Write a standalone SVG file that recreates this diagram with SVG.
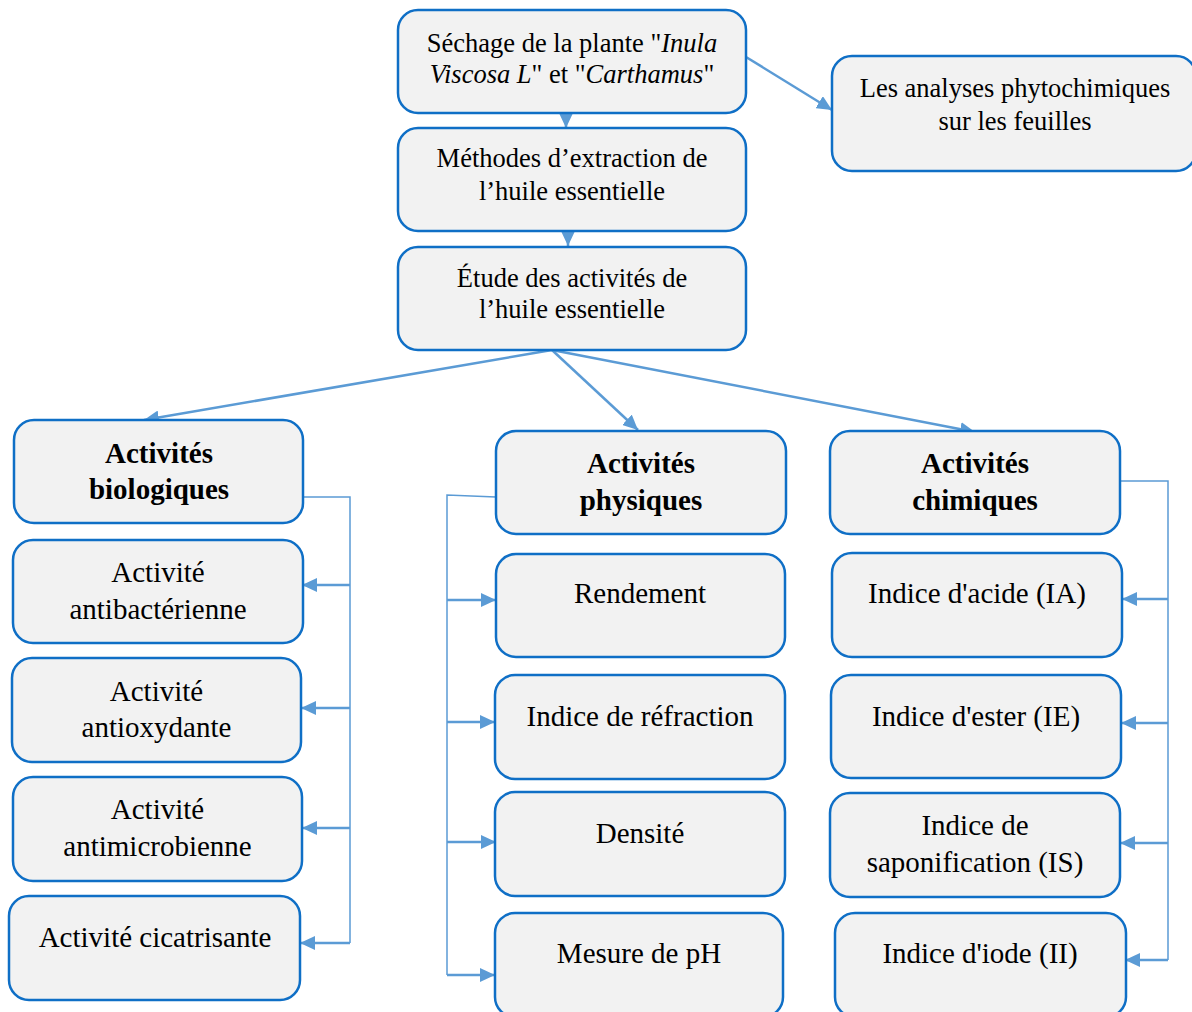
<svg xmlns="http://www.w3.org/2000/svg" width="1192" height="1012" viewBox="0 0 1192 1012">
<defs>
<marker id="ah" markerUnits="userSpaceOnUse" markerWidth="16" markerHeight="14" viewBox="0 0 16 14" refX="15" refY="7" orient="auto">
<path d="M0,0 L15,7 L0,14 z" fill="#5b9bd5"/>
</marker>
</defs>
<style>
.box{fill:#f2f2f2;stroke:#0f6fc6;stroke-width:2.5}
.t{font-family:"Liberation Serif","Times New Roman",serif;fill:#000;text-anchor:middle}
.s{font-size:26.5px}
.m{font-size:29px}
.b{font-size:29px;font-weight:bold}
.c{fill:none;stroke:#5b9bd5;stroke-width:2.5}
.a{fill:none;stroke:#5b9bd5;stroke-width:2.5;marker-end:url(#ah)}
.br{fill:none;stroke:#5b9bd5;stroke-width:1.5}
</style>
<rect width="1192" height="1012" fill="#fff"/>
<g id="connectors">
<line class="a" x1="566" y1="113" x2="566" y2="128"/>
<line class="a" x1="568" y1="231" x2="568" y2="246"/>
<line class="a" x1="746" y1="57" x2="832" y2="110"/>
<line class="a" x1="552" y1="350" x2="144" y2="420"/>
<line class="a" x1="552" y1="350" x2="638" y2="430"/>
<line class="a" x1="552" y1="350" x2="975" y2="432"/>
<polyline class="br" points="303,497 350,497 350,943"/>
<line class="a" x1="350" y1="585" x2="302" y2="585"/>
<line class="a" x1="350" y1="708" x2="301" y2="708"/>
<line class="a" x1="350" y1="828" x2="302" y2="828"/>
<line class="a" x1="350" y1="943" x2="300" y2="943"/>
<polyline class="br" points="496,497 447,495 447,975"/>
<line class="a" x1="447" y1="600" x2="496" y2="600"/>
<line class="a" x1="447" y1="722" x2="495" y2="722"/>
<line class="a" x1="447" y1="842" x2="496" y2="842"/>
<line class="a" x1="447" y1="975" x2="495" y2="975"/>
<polyline class="br" points="1120,481 1168,481 1168,960"/>
<line class="a" x1="1168" y1="599" x2="1122" y2="599"/>
<line class="a" x1="1168" y1="723" x2="1121" y2="723"/>
<line class="a" x1="1168" y1="843" x2="1120" y2="843"/>
<line class="a" x1="1168" y1="960" x2="1125" y2="960"/>
</g>
<g id="sechage">
<rect class="box" x="398" y="10" width="348" height="103" rx="20"/>
<text class="t s" x="572" y="52">Séchage de la plante "<tspan font-style="italic">Inula</tspan></text>
<text class="t s" x="572" y="83"><tspan font-style="italic">Viscosa L</tspan>" et "<tspan font-style="italic">Carthamus</tspan>"</text>
</g>
<g id="analyses">
<rect class="box" x="832" y="56" width="364" height="115" rx="20"/>
<text class="t s" x="1015" y="97">Les analyses phytochimiques</text>
<text class="t s" x="1015" y="130">sur les feuilles</text>
</g>
<g id="extraction">
<rect class="box" x="398" y="128" width="348" height="103" rx="20"/>
<text class="t s" x="572" y="167">Méthodes d’extraction de</text>
<text class="t s" x="572" y="200">l’huile essentielle</text>
</g>
<g id="etude">
<rect class="box" x="398" y="247" width="348" height="103" rx="20"/>
<text class="t s" x="572" y="287">Étude des activités de</text>
<text class="t s" x="572" y="318">l’huile essentielle</text>
</g>
<g id="bio">
<rect class="box" x="14" y="420" width="289" height="103" rx="20"/>
<text class="t b" x="159" y="463">Activités</text>
<text class="t b" x="159" y="499">biologiques</text>
</g>
<g id="phys">
<rect class="box" x="496" y="431" width="290" height="103" rx="20"/>
<text class="t b" x="641" y="473">Activités</text>
<text class="t b" x="641" y="510">physiques</text>
</g>
<g id="chim">
<rect class="box" x="830" y="431" width="290" height="103" rx="20"/>
<text class="t b" x="975" y="473">Activités</text>
<text class="t b" x="975" y="510">chimiques</text>
</g>
<g id="antibact">
<rect class="box" x="13" y="540" width="290" height="103" rx="20"/>
<text class="t m" x="158" y="582">Activité</text>
<text class="t m" x="158" y="619">antibactérienne</text>
</g>
<g id="antiox">
<rect class="box" x="12" y="658" width="289" height="104" rx="20"/>
<text class="t m" x="156.5" y="701">Activité</text>
<text class="t m" x="156.5" y="737">antioxydante</text>
</g>
<g id="antimicro">
<rect class="box" x="13" y="777" width="289" height="104" rx="20"/>
<text class="t m" x="157.5" y="819">Activité</text>
<text class="t m" x="157.5" y="856">antimicrobienne</text>
</g>
<g id="cicat">
<rect class="box" x="9" y="896" width="291" height="104" rx="20"/>
<text class="t m" x="155" y="947">Activité cicatrisante</text>
</g>
<g id="rendement">
<rect class="box" x="496" y="554" width="289" height="103" rx="20"/>
<text class="t m" x="640" y="603">Rendement</text>
</g>
<g id="refraction">
<rect class="box" x="495" y="675" width="290" height="104" rx="20"/>
<text class="t m" x="640" y="726">Indice de réfraction</text>
</g>
<g id="densite">
<rect class="box" x="495" y="792" width="290" height="104" rx="20"/>
<text class="t m" x="640" y="843">Densité</text>
</g>
<g id="ph">
<rect class="box" x="495" y="913" width="288" height="104" rx="20"/>
<text class="t m" x="639" y="963">Mesure de pH</text>
</g>
<g id="ia">
<rect class="box" x="832" y="553" width="290" height="104" rx="20"/>
<text class="t m" x="977" y="603">Indice d'acide (IA)</text>
</g>
<g id="ie">
<rect class="box" x="831" y="675" width="290" height="103" rx="20"/>
<text class="t m" x="976" y="726">Indice d'ester (IE)</text>
</g>
<g id="is">
<rect class="box" x="830" y="793" width="290" height="104" rx="20"/>
<text class="t m" x="975" y="835">Indice de</text>
<text class="t m" x="975" y="872">saponification (IS)</text>
</g>
<g id="ii">
<rect class="box" x="835" y="913" width="291" height="104" rx="20"/>
<text class="t m" x="980" y="963">Indice d'iode (II)</text>
</g>
</svg>
